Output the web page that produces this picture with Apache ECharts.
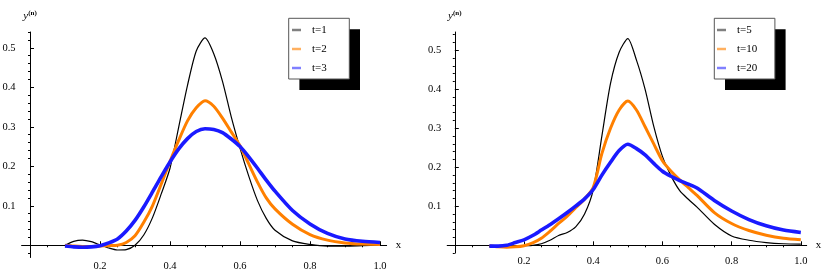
<!DOCTYPE html>
<html>
<head>
<meta charset="utf-8">
<script src="https://cdn.jsdelivr.net/npm/echarts@6/dist/echarts.min.js"></script>
<style>html,body{margin:0;padding:0;background:#fff}#c{width:832px;height:275px}</style>
</head>
<body>
<div id="c"></div>
<script>
// shared x sample positions
const xs = [0.1,0.125,0.15,0.175,0.2,0.225,0.25,0.275,0.3,0.325,0.35,0.375,0.4,0.425,0.45,0.475,0.5,0.525,0.55,0.575,0.6,0.625,0.65,0.675,0.7,0.75,0.8,0.85,0.9,0.95,1.0];
// left panel
const t1 = [0,0.01,0.013,0.009,0.001,-0.007,-0.012,-0.011,0.0,0.026,0.07,0.13,0.195,0.3,0.405,0.492,0.525,0.485,0.415,0.325,0.246,0.175,0.113,0.068,0.038,0.011,0.002,-0.002,-0.002,-0.001,0];
const t2 = [0,-0.002,-0.003,-0.003,-0.002,-0.001,0.0,0.007,0.024,0.058,0.1,0.155,0.212,0.266,0.315,0.348,0.366,0.352,0.322,0.287,0.252,0.206,0.16,0.12,0.092,0.053,0.027,0.013,0.006,0.003,0.002];
const t3 = [-0.002,-0.004,-0.005,-0.004,-0.001,0.006,0.016,0.036,0.063,0.097,0.135,0.174,0.211,0.244,0.27,0.288,0.295,0.293,0.285,0.269,0.25,0.224,0.195,0.165,0.137,0.088,0.054,0.03,0.016,0.01,0.007];
// right panel
const t5 = [0,-0.001,-0.002,-0.002,-0.001,0.0,0.004,0.013,0.025,0.033,0.048,0.08,0.142,0.28,0.415,0.495,0.53,0.475,0.4,0.305,0.228,0.178,0.14,0.118,0.098,0.054,0.024,0.013,0.007,0.004,0.003];
const t10 = [-0.002,-0.004,-0.005,-0.004,-0.001,0.006,0.018,0.036,0.056,0.075,0.097,0.119,0.148,0.235,0.3,0.347,0.37,0.347,0.304,0.26,0.217,0.19,0.168,0.148,0.128,0.084,0.056,0.038,0.026,0.018,0.014];
const t20 = [-0.002,-0.002,0.0,0.007,0.014,0.025,0.039,0.053,0.068,0.084,0.101,0.119,0.143,0.18,0.213,0.243,0.259,0.248,0.232,0.21,0.19,0.177,0.166,0.157,0.147,0.115,0.088,0.066,0.05,0.039,0.033];

const leftNames = ['t=1','t=2','t=3'];
const rightNames = ['t=5','t=10','t=20'];

const xMajorTicks = [0.2,0.4,0.6,0.8,1.0];
const xMinorTicks = [0.05,0.1,0.15,0.25,0.3,0.35,0.45,0.5,0.55,0.65,0.7,0.75,0.85,0.9,0.95];
const yMajorTicks = [0.1,0.2,0.3,0.4,0.5];
const yMinorTicks = [-0.02,0.02,0.04,0.06,0.08,0.12,0.14,0.16,0.18,0.22,0.24,0.26,0.28,0.32,0.34,0.36,0.38,0.42,0.44,0.46,0.48,0.52,0.54];

const colors = ['#000000','#FF8000','#1A1AFF'];
const legendColors = ['#808080','#FFB060','#8080FF'];
const widths = [1.2,3,3.6];
const serif = '"Liberation Serif", "DejaVu Serif", serif';

const chart = echarts.init(document.getElementById('c'), null, {renderer:'canvas'});

function mainX(grid, yIdx, xmax){
  return {
    type:'value', gridIndex:grid, min: grid===0?-0.024:-0.022, max: xmax,
    name:'x', nameLocation:'end', nameGap:9,
    nameTextStyle:{fontFamily:serif, fontSize:11, color:'#000'},
    axisLine:{show:true, onZero:true, onZeroAxisIndex:yIdx, lineStyle:{color:'#000', width:1}},
    axisTick:{show:true, inside:true, length:4, customValues:xMajorTicks, lineStyle:{color:'#000'}},
    axisLabel:{show:true, customValues:xMajorTicks, margin:3, fontFamily:serif, fontSize:10.5, color:'#000',
      formatter:v=>v.toFixed(1)},
    splitLine:{show:false}
  };
}
function minorX(grid, yIdx, xmax){
  return {
    type:'value', gridIndex:grid, min: grid===0?-0.024:-0.022, max: xmax,
    axisLine:{show:false, onZero:true, onZeroAxisIndex:yIdx},
    axisTick:{show:true, inside:true, length:2, customValues:xMinorTicks, lineStyle:{color:'#000'}},
    axisLabel:{show:false}, splitLine:{show:false}
  };
}
function mainY(grid, xIdx, ymin, ymax){
  return {
    type:'value', gridIndex:grid, min:ymin, max:ymax,
    name:'{i|y}{s|(n)}', nameLocation:'end', nameGap:10,
    nameTextStyle:{rich:{i:{fontFamily:serif, fontStyle:'italic', fontSize:11, color:'#000'},
      s:{fontFamily:serif, fontSize:7, fontWeight:'bold', color:'#000', verticalAlign:'top', padding:[0,0,5,0]}}},
    axisLine:{show:true, onZero:true, onZeroAxisIndex:xIdx, lineStyle:{color:'#000', width:1}},
    axisTick:{show:true, inside:true, length:4, customValues:yMajorTicks, lineStyle:{color:'#000'}},
    axisLabel:{show:true, customValues:yMajorTicks, margin:6, fontFamily:serif, fontSize:10.5, color:'#000',
      formatter:v=>v.toFixed(1)},
    splitLine:{show:false}
  };
}
function minorY(grid, xIdx, ymin, ymax){
  return {
    type:'value', gridIndex:grid, min:ymin, max:ymax,
    axisLine:{show:false, onZero:true, onZeroAxisIndex:xIdx},
    axisTick:{show:true, inside:true, length:2, customValues:yMinorTicks, lineStyle:{color:'#000'}},
    axisLabel:{show:false}, splitLine:{show:false}
  };
}
function mk(name, ys, i, xi, yi){
  return {
    name, type:'line', xAxisIndex:xi, yAxisIndex:yi,
    data: xs.map((x,k)=>[x, ys[k]]),
    showSymbol:false, smooth:0.25, silent:true, animation:false,
    lineStyle:{color:colors[i], width:widths[i]}, itemStyle:{color:colors[i]}
  };
}
function legendBox(x, y){
  return [
    {type:'rect', z:1, shape:{x:x+10.7, y:y+11, width:60.6, height:60.7}, style:{fill:'#000'}},
    {type:'rect', z:2, shape:{x:x, y:y, width:60.6, height:60.7}, style:{fill:'#fff', stroke:'#555', lineWidth:1}}
  ];
}
function legendOf(names, left){
  return {
    orient:'vertical', left:left, top:23, padding:0, itemGap:5, z:10,
    icon:'rect', itemWidth:9, itemHeight:2.5, selectedMode:false,
    textStyle:{fontFamily:serif, fontSize:11, color:'#000', lineHeight:14, padding:[0,0,0,6]},
    data: names.map((n,i)=>({name:n, itemStyle:{color:legendColors[i]}}))
  };
}

chart.setOption({
  animation:false,
  grid:[
    {left:21.6, top:32, width:365.05, height:225.5, outerBoundsMode:'none', containLabel:false},
    {left:447.2, top:32, width:359.5, height:221.1, outerBoundsMode:'none', containLabel:false}
  ],
  xAxis:[mainX(0,0,1.019), minorX(0,0,1.019), mainX(1,2,1.017), minorX(1,2,1.017)],
  yAxis:[mainY(0,0,-0.031,0.54), minorY(0,0,-0.031,0.54), mainY(1,2,-0.02,0.547), minorY(1,2,-0.02,0.547)],
  legend:[legendOf(leftNames, 292), legendOf(rightNames, 717)],
  graphic:[].concat(legendBox(288.7,18.3), legendBox(714.3,18.3)),
  series:[
    mk(leftNames[0], t1, 0, 0, 0), mk(leftNames[1], t2, 1, 0, 0), mk(leftNames[2], t3, 2, 0, 0),
    mk(rightNames[0], t5, 0, 2, 2), mk(rightNames[1], t10, 1, 2, 2), mk(rightNames[2], t20, 2, 2, 2)
  ]
});
</script>
</body>
</html>
